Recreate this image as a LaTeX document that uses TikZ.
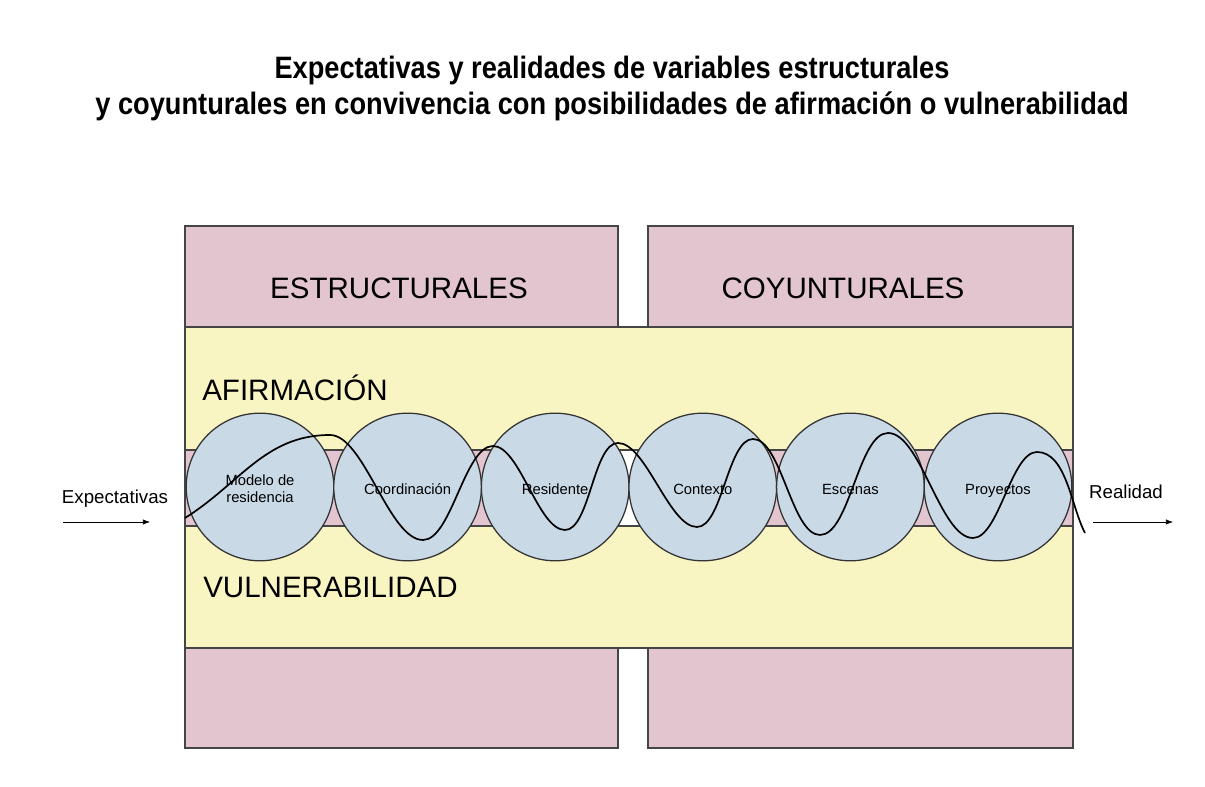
\documentclass[tikz,border=0pt]{standalone}
\usepackage{fontspec}
\setmainfont{Liberation Sans}
\newfontfamily\titlefont[FakeStretch=0.88]{Liberation Sans}
\usetikzlibrary{arrows.meta}
\definecolor{boxpink}{HTML}{E2C5CE}
\definecolor{bandyellow}{HTML}{F8F5C2}
\definecolor{bubbleblue}{HTML}{C9D9E6}
\definecolor{edgegrey}{HTML}{454545}

\begin{document}
\begin{tikzpicture}[x = .025cm, y = .025cm,
		box/.style = {fill = boxpink, draw = edgegrey, line width = 1pt},
		band/.style = {fill = bandyellow, draw = edgegrey, line width = .8pt},
		bubble/.style = {circle, fill = bubbleblue, draw = black!80, line width = .9pt,
			minimum size = 36.9mm, inner sep = 0pt, align = center,
			font = \fontsize{10.5}{12}\selectfont},
		tag/.style = {inner sep = 0pt, font = \fontsize{21}{25}\selectfont},
		side/.style = {inner sep = 0pt, font = \fontsize{13.3}{16}\selectfont}]
	\useasboundingbox (0,0) rectangle (1205,787);
	\node[align = center, font = \titlefont\bfseries\fontsize{22}{25.6}\selectfont] (title) at (612,698)
		{Expectativas y realidades de variables estructurales\\y coyunturales en convivencia con posibilidades de afirmación o vulnerabilidad};
	% columnas y franjas
	\draw[box] (185,39) rectangle (618,561);
	\draw[box] (648,39) rectangle (1073,561);
	\draw[band] (185,337) rectangle (1073,460);
	\draw[band] (185,139) rectangle (1073,261);
	\node[tag] (estr) at (399,499) {ESTRUCTURALES};
	\node[tag] (coyu) at (843,499) {COYUNTURALES};
	\node[tag, anchor = west] (afir) at (202,399) {AFIRMACIÓN};
	\node[tag, anchor = west] (vuln) at (203,200) {VULNERABILIDAD};
	% circulos
	\foreach \lab [count = \i] in {{Modelo de\\residencia}, Coordinación, Residente, Contexto, Escenas, Proyectos}
		\node[bubble] (c\i) at ({260+147.6*(\i-1)},300) {\rule{0pt}{14pt}\lab\strut};
	\draw[line width = 1.2pt, looseness = .62] (185,269) to[out = 32, in = 180, looseness = 1] (330,352)
		to[out = 0, in = 180] (423,247)
		to[out = 0, in = 180] (493,341) to[out = 0, in = 180] (565,257)
		to[out = 0, in = 180] (618,344) to[out = 0, in = 180] (697,260)
		to[out = 0, in = 180] (753,348) to[out = 0, in = 180] (820,252)
		to[out = 0, in = 180] (888,354) to[out = 0, in = 180] (973,249)
		to[out = 0, in = 180] (1037,335) to[out = 0, in = 118, looseness = .8] (1085,254);
	% entrada y salida
	\node[side] (expe) at (115,288) {Expectativas};
	\node[side] (real) at (1126,295) {Realidad};
	\coordinate (in0) at (63,265);
	\coordinate (in1) at (150,265);
	\coordinate (out0) at (1093,265);
	\coordinate (out1) at (1173,265);
	\draw[-{Latex[length = 5pt]}] (in0) -- (in1);
	\draw[-{Latex[length = 5pt]}] (out0) -- (out1);
\end{tikzpicture}
\end{document}
